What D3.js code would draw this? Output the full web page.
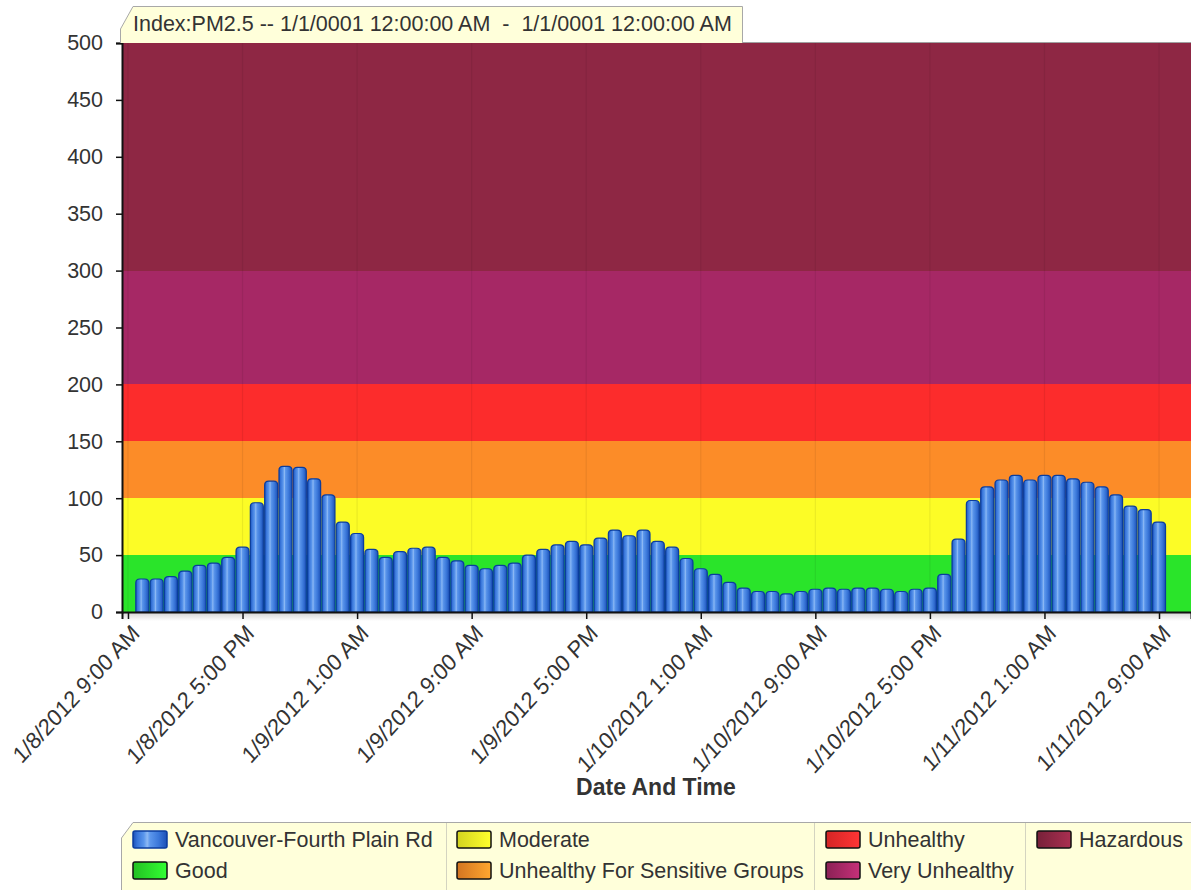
<!DOCTYPE html>
<html>
<head>
<meta charset="utf-8">
<script src="https://cdn.jsdelivr.net/npm/d3@7"></script>
<style>
  html, body { margin: 0; padding: 0; background: #fff; }
  svg { display: block; font-family: "Liberation Sans", Arial, sans-serif; }
</style>
</head>
<body>
<svg id="chart" width="1191" height="890"></svg>
<script>
// ---------- data ----------
const seriesName = "Vancouver-Fourth Plain Rd";
const firstHour = new Date(2012, 0, 8, 10, 0);   // first hourly reading
const pm25Values = [
  29, 29, 31, 36, 41, 43, 48, 57, 96, 115, 128, 127, 117, 103, 79, 69, 55, 48, 53, 56,
  57, 48, 45, 41, 38, 41, 43, 50, 55, 59, 62, 59, 65, 72, 67, 72, 62, 57, 47, 38,
  33, 26, 21, 18, 18, 16, 18, 20, 21, 20, 21, 21, 20, 18, 20, 21, 33, 64, 98, 110,
  116, 120, 116, 120, 120, 117, 114, 110, 103, 93, 90, 79
];
const xTickTimes = [
  new Date(2012, 0, 8, 9), new Date(2012, 0, 8, 17), new Date(2012, 0, 9, 1),
  new Date(2012, 0, 9, 9), new Date(2012, 0, 9, 17), new Date(2012, 0, 10, 1),
  new Date(2012, 0, 10, 9), new Date(2012, 0, 10, 17), new Date(2012, 0, 11, 1),
  new Date(2012, 0, 11, 9)
];
const yTicks = [0, 50, 100, 150, 200, 250, 300, 350, 400, 450, 500];
const bandNames  = ["Good", "Moderate", "Unhealthy For Sensitive Groups", "Unhealthy", "Very Unhealthy", "Hazardous"];
const bandLow    = [0, 50, 100, 150, 200, 300];
const bandHigh   = [50, 100, 150, 200, 300, 500];
const bandColors = ["#2ae42a", "#fcfc26", "#fc8c28", "#fc2c2c", "#a62865", "#8e2744"];
const titleText = "Index:PM2.5 -- 1/1/0001 12:00:00 AM  -  1/1/0001 12:00:00 AM";
const xAxisTitle = "Date And Time";

// ---------- layout ----------
const svg = d3.select("#chart");
const plot = { left: 122, right: 1191, top: 43, bottom: 612 };
const FS = 21.5;

const x = d3.scaleTime()
  .domain([new Date(2012, 0, 8, 8, 35), new Date(2012, 0, 11, 11, 14)])
  .range([plot.left, plot.right]);
const y = d3.scaleLinear().domain([0, 500]).range([plot.bottom, plot.top]);

const hours = pm25Values.map((v, i) => d3.timeHour.offset(firstHour, i));
const barW = 13;

const defs = svg.append("defs");
const bg = defs.append("linearGradient").attr("id", "barGrad").attr("x1", "0").attr("x2", "1").attr("y1", "0").attr("y2", "0");
[[0, "#1b4fb6"], [0.12, "#3673d8"], [0.32, "#5a96ec"], [0.42, "#8db9f4"], [0.5, "#5c97ec"], [0.75, "#3b78da"], [1, "#1c50b6"]]
  .forEach(([o, c]) => bg.append("stop").attr("offset", o).attr("stop-color", c));

const shadow = defs.append("linearGradient").attr("id", "axShadow").attr("x1", "0").attr("x2", "0").attr("y1", "0").attr("y2", "1");
shadow.append("stop").attr("offset", 0).attr("stop-color", "#000").attr("stop-opacity", 0.18);
shadow.append("stop").attr("offset", 1).attr("stop-color", "#000").attr("stop-opacity", 0);

// ---------- bands ----------
svg.append("g").selectAll("rect").data(bandNames).join("rect")
  .attr("x", plot.left)
  .attr("width", plot.right - plot.left)
  .attr("y", (d, i) => y(bandHigh[i]))
  .attr("height", (d, i) => y(bandLow[i]) - y(bandHigh[i]))
  .attr("fill", (d, i) => bandColors[i])
  .attr("shape-rendering", "crispEdges");

// vertical grid lines
svg.append("g").selectAll("line").data(xTickTimes).join("line")
  .attr("x1", d => x(d)).attr("x2", d => x(d))
  .attr("y1", plot.top).attr("y2", plot.bottom)
  .attr("stroke", "#000").attr("stroke-opacity", 0.07).attr("stroke-width", 1.2);

// top border line
svg.append("line").attr("x1", plot.left).attr("x2", plot.right)
  .attr("y1", plot.top - 0.5).attr("y2", plot.top - 0.5)
  .attr("stroke", "#a0a0a0").attr("stroke-width", 1);

// ---------- bars ----------
function barPath(cx, top, bottom, w, r) {
  const l = cx - w / 2, rr = Math.min(r, (bottom - top) / 2);
  return `M${l},${bottom}V${top + rr}Q${l},${top} ${l + rr},${top}H${l + w - rr}Q${l + w},${top} ${l + w},${top + rr}V${bottom}Z`;
}
svg.append("g").selectAll("path").data(pm25Values).join("path")
  .attr("d", (v, i) => barPath(x(hours[i]), y(v), y(0), barW, 4))
  .attr("fill", "url(#barGrad)")
  .attr("stroke", "#0b3d9e")
  .attr("stroke-width", 1.2);

// ---------- axes ----------
svg.append("rect").attr("x", plot.left).attr("y", plot.bottom).attr("width", plot.right - plot.left).attr("height", 9)
  .attr("fill", "url(#axShadow)");

const yAxis = svg.append("g").attr("transform", `translate(${plot.left},0)`)
  .call(d3.axisLeft(y).tickValues(yTicks).tickSize(6).tickPadding(13).tickFormat(d3.format("d")));
yAxis.select(".domain").attr("stroke", "#111").attr("stroke-width", 2);
yAxis.selectAll(".tick line").attr("stroke", "#111").attr("stroke-width", 1.5);
yAxis.selectAll("text").attr("font-size", FS).attr("fill", "#333").attr("font-family", "Liberation Sans, Arial, sans-serif");

const fmt = d3.timeFormat("%-m/%-d/%Y %-I:%M %p");
const xAxis = svg.append("g").attr("transform", `translate(0,${plot.bottom})`)
  .call(d3.axisBottom(x).tickValues(xTickTimes).tickSize(7).tickFormat(fmt));
xAxis.select(".domain").attr("stroke", "#111").attr("stroke-width", 2);
xAxis.selectAll(".tick line").attr("stroke", "#111").attr("stroke-width", 1.5);
xAxis.selectAll("text")
  .attr("font-size", FS).attr("fill", "#333").attr("font-family", "Liberation Sans, Arial, sans-serif")
  .attr("text-anchor", "end")
  .attr("transform", "translate(7,17) scale(1,1.09) rotate(-45)")
  .attr("y", 0).attr("dy", "0.35em").attr("x", 0);

svg.append("text").attr("x", 656).attr("y", 795).attr("text-anchor", "middle")
  .attr("font-size", 23).attr("font-weight", "bold").attr("fill", "#333").text(xAxisTitle);

// ---------- title box ----------
svg.append("path")
  .attr("d", "M120.5,43V29L133,6.5H742.5V43Z")
  .attr("fill", "#ffffda").attr("stroke", "none");
svg.append("path")
  .attr("d", "M120.5,43V29L133,6.5H742.5V43")
  .attr("fill", "none").attr("stroke", "#a8a8a8").attr("stroke-width", 1);
svg.append("text").attr("x", 133).attr("y", 31).attr("font-size", FS).attr("fill", "#333")
  .attr("xml:space", "preserve").style("white-space", "pre").text(titleText);

// ---------- legend ----------
svg.append("path")
  .attr("d", "M121.5,891V838L133,822.5H1192V891Z")
  .attr("fill", "#ffffda").attr("stroke", "none");
svg.append("path")
  .attr("d", "M121.5,891V838L133,822.5H1192")
  .attr("fill", "none").attr("stroke", "#a8a8a8").attr("stroke-width", 1);
svg.append("g").selectAll("line").data([446, 814, 1025]).join("line")
  .attr("x1", d => d + 0.5).attr("x2", d => d + 0.5).attr("y1", 823).attr("y2", 890)
  .attr("stroke", "#d4d4c0").attr("stroke-width", 1);

const legendItems = [
  { name: seriesName, color: "#3a78da", fill: "url(#barGrad)", stroke: "#0b3d9e" },
  ...bandNames.map((n, i) => ({ name: n, color: bandColors[i] }))
];
const legendCols = [133, 457, 826, 1037];
const legendRows = [839, 870];
const legendPos = [[0, 0], [0, 1], [1, 0], [1, 1], [2, 0], [2, 1], [3, 0]];

legendItems.forEach((it, i) => {
  if (!it.fill) {
    const g = defs.append("linearGradient").attr("id", "lg" + i).attr("x1", "0").attr("x2", "1");
    g.append("stop").attr("offset", 0).attr("stop-color", d3.color(it.color).darker(0.5));
    g.append("stop").attr("offset", 1).attr("stop-color", d3.color(it.color).brighter(0.5));
    it.fill = `url(#lg${i})`;
    it.stroke = "#111";
  }
});

const lg = svg.append("g").selectAll("g").data(legendItems).join("g")
  .attr("transform", (d, i) => `translate(${legendCols[legendPos[i][0]]},${legendRows[legendPos[i][1]]})`);
lg.append("rect").attr("x", 0).attr("y", -8).attr("width", 34).attr("height", 17).attr("rx", 2)
  .attr("fill", d => d.fill).attr("stroke", d => d.stroke).attr("stroke-width", 1.5);
lg.append("text").attr("x", 42).attr("y", 0).attr("dy", "0.35em").attr("font-size", FS).attr("fill", "#333")
  .text(d => d.name);
</script>
</body>
</html>
